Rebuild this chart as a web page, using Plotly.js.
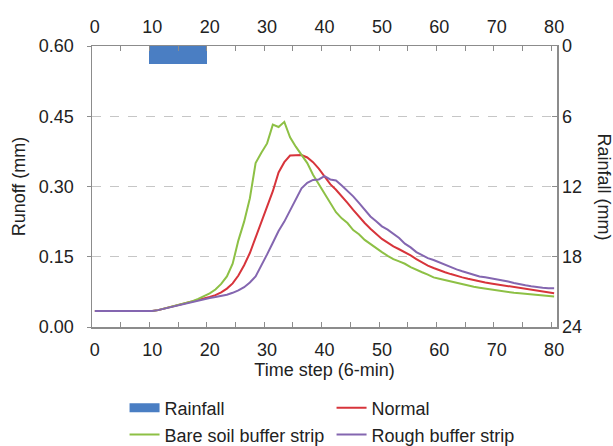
<!DOCTYPE html>
<html>
<head>
<meta charset="utf-8">
<script src="https://cdn.plot.ly/plotly-3.0.1.min.js"></script>
<style>html,body{margin:0;padding:0;background:#fff;}#chart{width:613px;height:446px;}</style>
</head>
<body>
<div id="chart"></div>
<script>
// Time steps (6-min), 0..80
const timeSteps = Array.from({length: 81}, (_, i) => i);

// Rainfall (mm) per time step
const rainSteps = [10, 11, 12, 13, 14, 15, 16, 17, 18, 19];
const rainValues = [1.5, 1.5, 1.5, 1.5, 1.5, 1.5, 1.5, 1.5, 1.5, 1.5];

// Runoff (mm), steps 0..80
const normalRunoff = [
  0.034,0.034,0.034,0.034,0.034,0.034,0.034,0.034,0.034,0.034,
  0.034,0.036,0.039,0.042,0.045,0.048,0.051,0.054,0.057,0.060,
  0.064,0.068,0.074,0.082,0.093,0.110,0.132,0.158,0.190,0.222,
  0.255,0.290,0.330,0.352,0.366,0.367,0.367,0.362,0.352,0.338,
  0.322,0.305,0.293,0.280,0.265,0.250,0.235,0.222,0.210,0.198,
  0.188,0.180,0.172,0.166,0.160,0.153,0.145,0.138,0.131,0.126,
  0.121,0.117,0.113,0.109,0.106,0.103,0.100,0.098,0.095,0.093,
  0.091,0.089,0.087,0.085,0.083,0.081,0.079,0.077,0.075,0.074,
  0.072
];
const bareSoilRunoff = [
  0.034,0.034,0.034,0.034,0.034,0.034,0.034,0.034,0.034,0.034,
  0.034,0.036,0.039,0.042,0.045,0.048,0.051,0.055,0.060,0.066,
  0.072,0.080,0.092,0.108,0.135,0.185,0.225,0.275,0.350,0.372,
  0.392,0.432,0.427,0.438,0.405,0.385,0.368,0.350,0.325,0.305,
  0.287,0.265,0.245,0.232,0.222,0.207,0.198,0.186,0.177,0.168,
  0.160,0.152,0.145,0.140,0.135,0.128,0.122,0.117,0.112,0.106,
  0.103,0.100,0.097,0.094,0.091,0.088,0.086,0.084,0.082,0.080,
  0.078,0.076,0.075,0.073,0.072,0.071,0.070,0.068,0.067,0.066,
  0.065
];
const roughRunoff = [
  0.034,0.034,0.034,0.034,0.034,0.034,0.034,0.034,0.034,0.034,
  0.034,0.036,0.039,0.042,0.045,0.048,0.051,0.054,0.057,0.060,
  0.062,0.064,0.066,0.069,0.073,0.078,0.085,0.095,0.108,0.130,
  0.155,0.180,0.205,0.225,0.248,0.272,0.296,0.308,0.314,0.315,
  0.322,0.315,0.313,0.302,0.291,0.279,0.265,0.250,0.236,0.226,
  0.215,0.208,0.199,0.190,0.178,0.170,0.160,0.154,0.147,0.143,
  0.138,0.132,0.128,0.123,0.119,0.115,0.111,0.108,0.106,0.104,
  0.102,0.100,0.097,0.094,0.091,0.089,0.087,0.085,0.084,0.083,
  0.083
];

const xLabels = [0, 10, 20, 30, 40, 50, 60, 70, 80];
const yTicks = [0, 0.15, 0.30, 0.45, 0.60];
const rainTicks = [0, 6, 12, 18, 24];

const FONT = 'Liberation Sans, Arial, sans-serif';
const TXT = '#222222';
const AX = '#8c8c8c';
const RAIN_COLOR = '#4a7ec3';
const minorX = [];
for (let v = 4.5; v <= 80; v += 5) minorX.push(v);

const traces = [
  {type: 'bar', name: 'Rainfall', x: rainSteps, y: rainValues, width: 1,
   xaxis: 'x2', yaxis: 'y2', showlegend: false, marker: {color: RAIN_COLOR, line: {width: 0}}},
  // legend key for the rainfall bars (wide block like the reference)
  {type: 'scatter', mode: 'lines', name: 'Rainfall', x: [null], y: [null],
   legend: 'legend', line: {color: RAIN_COLOR, width: 9}},
  {type: 'scatter', mode: 'lines', name: 'Normal', x: timeSteps, y: normalRunoff,
   legend: 'legend', line: {color: '#d7343b', width: 2}},
  {type: 'scatter', mode: 'lines', name: 'Bare soil buffer strip', x: timeSteps, y: bareSoilRunoff,
   legend: 'legend2', line: {color: '#8dc045', width: 2}},
  {type: 'scatter', mode: 'lines', name: 'Rough buffer strip', x: timeSteps, y: roughRunoff,
   legend: 'legend2', line: {color: '#8466b0', width: 2}}
];

const xCommon = {
  range: [-0.5, 80.5], tickmode: 'array', tickvals: xLabels, ticks: '',
  minor: {tickmode: 'array', tickvals: minorX, ticks: 'inside', ticklen: 5, tickcolor: AX, showgrid: false},
  showline: true, linecolor: AX, linewidth: 1.5, showgrid: false, zeroline: false,
  tickfont: {family: FONT, size: 18, color: TXT}
};

const legendCommon = {
  orientation: 'h', x: 0.07, xanchor: 'left', yanchor: 'middle',
  entrywidth: 162, itemwidth: 30, font: {family: FONT, size: 18, color: TXT},
  bgcolor: 'rgba(0,0,0,0)', traceorder: 'normal'
};

const layout = {
  width: 613, height: 446,
  margin: {l: 92, r: 56, t: 46, b: 119, autoexpand: false},
  paper_bgcolor: '#ffffff', plot_bgcolor: '#ffffff',
  font: {family: FONT, size: 18, color: TXT},
  bargap: 0,
  showlegend: true,
  xaxis: Object.assign({}, xCommon, {
    title: {text: 'Time step (6-min)', font: {family: FONT, size: 18, color: TXT}, standoff: 4},
    anchor: 'y', ticklabelstandoff: 6
  }),
  xaxis2: Object.assign({}, xCommon, {overlaying: 'x', side: 'top', anchor: 'y2', ticklabelstandoff: 4}),
  yaxis: {
    range: [0, 0.6], tickmode: 'array', tickvals: yTicks, tickformat: '.2f',
    ticks: 'outside', ticklen: 4, tickcolor: AX,
    showline: true, linecolor: AX, linewidth: 1.5,
    showgrid: true, gridcolor: '#c6c6c6', griddash: 'dash', gridwidth: 1, zeroline: false,
    tickfont: {family: FONT, size: 18, color: TXT}, ticklabelstandoff: 9,
    title: {text: 'Runoff (mm)', font: {family: FONT, size: 18, color: TXT}, standoff: 8}
  },
  yaxis2: {
    overlaying: 'y', side: 'right', anchor: 'x',
    range: [24, 0], tickmode: 'array', tickvals: rainTicks,
    ticks: 'inside', ticklen: 5, tickcolor: AX,
    showline: true, linecolor: AX, linewidth: 1.5,
    showgrid: false, zeroline: false,
    tickfont: {family: FONT, size: 18, color: TXT}
  },
  annotations: [{
    text: 'Rainfall (mm)', xref: 'paper', yref: 'paper', x: 1, y: 0.5,
    xshift: 47, xanchor: 'center', yanchor: 'middle', textangle: 90, showarrow: false,
    font: {family: FONT, size: 18, color: TXT}
  }],
  legend: Object.assign({}, legendCommon, {y: -0.288}),
  legend2: Object.assign({}, legendCommon, {y: -0.384})
};

Plotly.newPlot('chart', traces, layout, {displayModeBar: false, staticPlot: true});
</script>
</body>
</html>
